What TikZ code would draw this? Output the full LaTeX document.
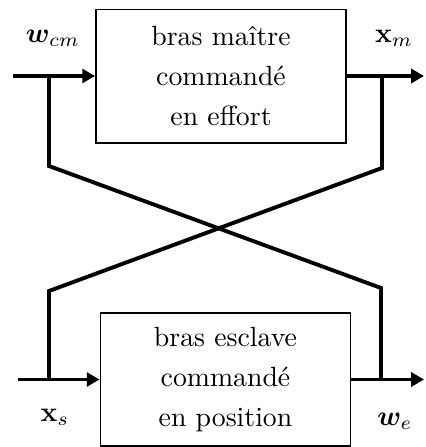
\documentclass[tikz,border=0pt]{standalone}
\usepackage{amsmath}
\usepackage{bm}
\usetikzlibrary{arrows.meta,positioning}

\begin{document}
\begin{tikzpicture}[x=0.36pt,y=-0.36pt,
  bloc/.style={draw,line width=0.7pt,inner sep=0pt,minimum width=90pt,minimum height=47.9pt,align=center},
  lien/.style={line width=1.4pt},
  fleche/.style={lien,-{Triangle[length=4.6pt,width=5pt]}}]
\useasboundingbox (0,0) rectangle (425,447);
\node[bloc] (maitre) at (221,76) {bras ma\^itre\\[2.4pt] command\'e\\[2.4pt] en effort};
\node[bloc] (esclave) at (225.5,379.5) {bras esclave\\[2.4pt] command\'e\\[2.4pt] en position};
\coordinate (wcm) at (13,76);
\coordinate (xm) at (424,76);
\coordinate (xs) at (18,379.5);
\coordinate (we) at (424,379.5);
\coordinate (b1) at (49,76);
\coordinate (c1) at (49,166);
\coordinate (d1) at (381,288);
\coordinate (e1) at (381,379.5);
\coordinate (b2) at (382,76);
\coordinate (c2) at (382,168);
\coordinate (d2) at (49,291);
\coordinate (e2) at (49,379.5);
\draw[fleche] (wcm) -- (maitre.west);
\draw[fleche] (maitre.east) -- (xm);
\draw[fleche] (xs) -- (esclave.west);
\draw[fleche] (esclave.east) -- (we);
\draw[lien] (b1) -- (c1) -- (d1) -- (e1);
\draw[lien] (b2) -- (c2) -- (d2) -- (e2);
\node (lwcm) at (53,38) {$\bm{w}_{cm}$};
\node (lxm) at (394,38) {$\mathbf{x}_m$};
\node (lxs) at (55,417) {$\mathbf{x}_s$};
\node (lwe) at (395,421) {$\bm{w}_e$};
\end{tikzpicture}
\end{document}
